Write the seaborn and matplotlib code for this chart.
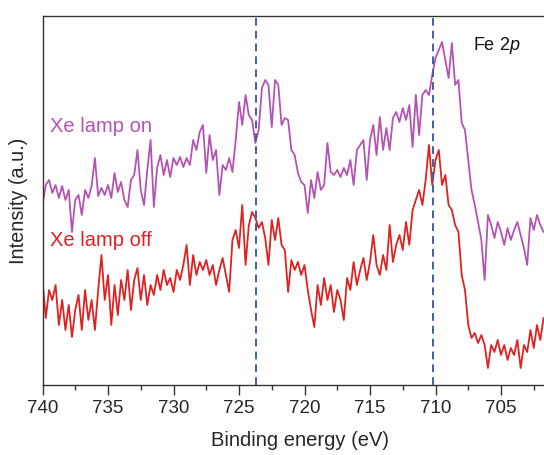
import numpy as np
import pandas as pd
import matplotlib
matplotlib.use("Agg")
import matplotlib.pyplot as plt
import seaborn as sns

# Binding-energy grid (eV), 0.25 eV steps from 740 down to 701.75
E_START, E_STEP, N_PTS = 740.0, 0.25, 154
energy = E_START - E_STEP * np.arange(N_PTS)

# Fe 2p spectrum with Xe lamp on (a.u.)
lamp_on = [
    180, 200, 205, 192, 200, 187, 199, 185, 195, 153, 185, 190, 170, 195, 187, 199,
    227, 189, 197, 190, 200, 187, 212, 193, 203, 185, 178, 205, 210, 235, 195, 180,
    215, 245, 178, 217, 230, 210, 225, 208, 227, 220, 228, 218, 227, 220, 245, 235,
    253, 260, 212, 250, 225, 235, 190, 220, 215, 227, 213, 245, 283, 260, 290, 270,
    265, 242, 255, 297, 305, 300, 258, 305, 300, 260, 267, 265, 235, 230, 212, 203,
    200, 172, 205, 187, 213, 195, 200, 242, 213, 210, 215, 208, 217, 210, 225, 200,
    235, 240, 245, 205, 245, 260, 230, 268, 235, 257, 235, 267, 273, 263, 277, 265,
    280, 238, 290, 250, 290, 295, 290, 310, 327, 335, 343, 325, 307, 342, 300, 305,
    262, 255, 225, 195, 180, 163, 145, 105, 170, 160, 147, 163, 153, 140, 157, 145,
    155, 163, 150, 137, 120, 167, 155, 170, 160, 153,
]

# Fe 2p spectrum with Xe lamp off (a.u.)
lamp_off = [
    105, 67, 95, 85, 100, 60, 85, 55, 80, 48, 75, 90, 55, 95, 65, 85,
    55, 95, 130, 85, 110, 60, 100, 70, 105, 85, 115, 75, 105, 117, 85, 110,
    80, 100, 90, 110, 95, 115, 100, 107, 93, 115, 105, 120, 140, 100, 130, 110,
    123, 115, 125, 110, 120, 100, 115, 127, 110, 93, 145, 155, 137, 180, 120, 160,
    173, 167, 157, 163, 147, 120, 165, 145, 167, 140, 135, 93, 125, 115, 123, 110,
    120, 95, 75, 58, 100, 80, 107, 85, 100, 73, 95, 85, 65, 107, 95, 123,
    100, 115, 127, 105, 123, 150, 120, 110, 130, 115, 160, 123, 140, 150, 135, 163,
    140, 175, 185, 195, 180, 205, 240, 200, 225, 235, 200, 210, 180, 175, 160, 153,
    110, 95, 60, 47, 52, 42, 50, 40, 17, 40, 33, 45, 30, 40, 25, 37,
    30, 45, 17, 40, 33, 55, 37, 60, 45, 67,
]

# Peak positions marked with dashed guides (eV)
peak_positions = [723.7, 710.2]

series_names = ["Xe lamp on", "Xe lamp off"]
series_colors = ["#B553B3", "#DD2222"]

df = pd.DataFrame({
    "energy": np.concatenate([energy, energy]),
    "intensity": np.concatenate([lamp_on, lamp_off]),
    "series": [series_names[0]] * N_PTS + [series_names[1]] * N_PTS,
})

sns.set_style("ticks")
plt.rcParams["font.family"] = ["Liberation Sans", "DejaVu Sans"]
plt.rcParams["mathtext.fontset"] = "custom"
plt.rcParams["mathtext.rm"] = "Liberation Sans"
plt.rcParams["mathtext.it"] = "Liberation Sans:italic"

fig = plt.figure(figsize=(5.44, 4.55), dpi=100)
ax = fig.add_axes([42.5 / 544, 70 / 455, 524 / 544, 369 / 455])

sns.lineplot(data=df, x="energy", y="intensity", hue="series",
             palette=dict(zip(series_names, series_colors)),
             linewidth=1.3, legend=False, ax=ax, estimator=None, sort=False)

for pos in peak_positions:
    ax.axvline(pos, color="#3E5FB0", linestyle=(0, (4, 2.6)), linewidth=1.4, zorder=3)

ax.set_xlim(740, 700)
ax.set_ylim(0, 369)
ax.set_yticks([])
ax.set_xticks(np.arange(740, 700, -5))
ax.set_xticks(np.arange(737.5, 700, -5), minor=True)
ax.tick_params(axis="x", which="major", direction="out", length=7, width=1.0,
               labelsize=13.5, pad=4, color="#333333")
ax.tick_params(axis="x", which="minor", direction="out", length=3.5, width=1.0,
               color="#333333")

for side in ["left", "top", "bottom", "right"]:
    ax.spines[side].set_color("#333333")
    ax.spines[side].set_linewidth(1.0)

ax.set_xlabel("Binding energy (eV)", fontsize=14.5)
ax.xaxis.set_label_coords(0.491, -0.125)
ax.set_ylabel("Intensity (a.u.)", fontsize=14.3)
ax.yaxis.set_label_coords(-0.028, 0.5)

ax.text(739.4, 258, series_names[0], color=series_colors[0], fontsize=14.5,
        ha="left", va="center")
ax.text(739.4, 144, series_names[1], color=series_colors[1], fontsize=14.5,
        ha="left", va="center")
ax.text(707.1, 340, "Fe 2$\\mathit{p}$", color="#111111", fontsize=13,
        ha="left", va="center")

fig.savefig("out.png", dpi=100)
